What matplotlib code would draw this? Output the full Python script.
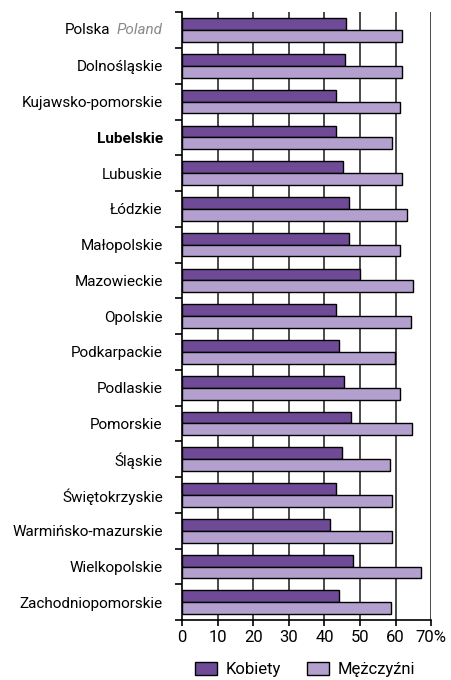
import matplotlib.pyplot as plt
import numpy as np

plt.rcParams['font.family'] = ['Roboto', 'DejaVu Sans']

regions = ["Polska", "Dolnośląskie", "Kujawsko-pomorskie", "Lubelskie", "Lubuskie",
           "Łódzkie", "Małopolskie", "Mazowieckie", "Opolskie", "Podkarpackie",
           "Podlaskie", "Pomorskie", "Śląskie", "Świętokrzyskie",
           "Warmińsko-mazurskie", "Wielkopolskie", "Zachodniopomorskie"]
kobiety = [46.0, 45.8, 43.2, 43.3, 45.3, 47.0, 46.8, 50.1, 43.1, 44.0,
           45.4, 47.4, 44.8, 43.3, 41.5, 48.0, 44.2]
mezczyzni = [61.9, 61.9, 61.1, 59.1, 61.8, 63.3, 61.2, 65.0, 64.3, 59.9,
             61.2, 64.7, 58.4, 59.0, 59.1, 67.0, 58.6]
xticks = [0, 10, 20, 30, 40, 50, 60, 70]
xticklabels = ["0", "10", "20", "30", "40", "50", "60", "70%"]

c_dark = "#6f4a96"
c_light = "#b3a0cf"
fs = 11

fig = plt.figure(figsize=(4.52, 6.8), dpi=100)
ax = fig.add_axes([0.403, 0.088, 0.551, 0.894])

y = np.arange(len(regions))
h = 0.33
ax.barh(y - h / 2, kobiety, height=h, color=c_dark, edgecolor="black",
        linewidth=1, label="Kobiety", zorder=3)
ax.barh(y + h / 2, mezczyzni, height=h, color=c_light, edgecolor="black",
        linewidth=1, label="Mężczyźni", zorder=3)

ax.set_xlim(0, 70)
ax.set_ylim(len(regions) - 0.5, -0.5)

# siatka pionowa
for xv in xticks[1:]:
    ax.axvline(xv, color="#3c3c3c", linewidth=1.3, zorder=1)

for s in ["top", "right"]:
    ax.spines[s].set_visible(False)
ax.spines["left"].set_linewidth(1.2)
ax.spines["bottom"].set_linewidth(1.2)

ax.set_xticks(xticks)
ax.set_xticklabels(xticklabels, fontsize=fs + 1)
ax.tick_params(axis="x", length=4, width=1.2, pad=3)

ax.set_yticks(y)
labels = [""] + regions[1:]
ax.set_yticklabels(labels, fontsize=fs)
ax.tick_params(axis="y", which="major", length=0, pad=14)
ax.set_yticks(np.arange(-0.5, len(regions), 1), minor=True)
ax.tick_params(axis="y", which="minor", length=5, width=1.2)
for lab in ax.get_yticklabels():
    if lab.get_text() == "Lubelskie":
        lab.set_fontweight("bold")

# etykieta "Polska  Poland"
poland = ax.annotate("Poland", xy=(0, 0), xycoords=("axes fraction", "data"),
                     xytext=(-14, 0), textcoords="offset points",
                     ha="right", va="center", fontsize=fs,
                     style="italic", color="#8a8a8a")
ax.annotate("Polska", xy=(0, 0.5), xycoords=poland, xytext=(-5, 0),
            textcoords="offset points", ha="right", va="center", fontsize=fs)

fig.legend(loc="lower center", bbox_to_anchor=(0.675, -0.018), ncol=2,
           frameon=False, fontsize=fs + 1, handlelength=1.3, handleheight=0.9,
           columnspacing=1.6, handletextpad=0.5)

fig.savefig("out.png", dpi=100)
